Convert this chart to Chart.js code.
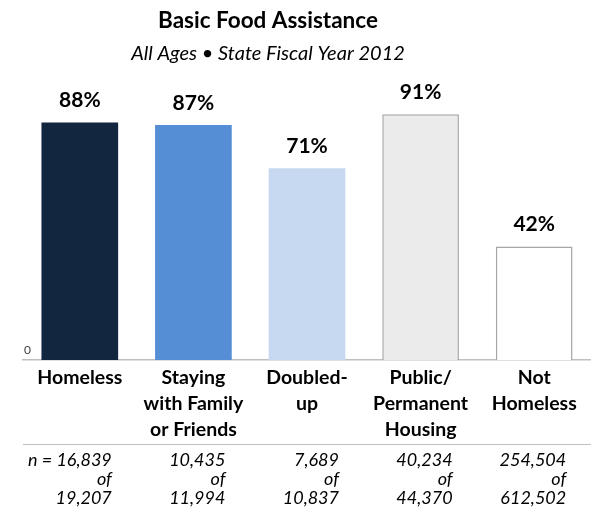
<!DOCTYPE html>
<html>
<head>
<meta charset="utf-8">
<script src="https://cdn.jsdelivr.net/npm/chart.js@4"></script>
<style>
    html, body { margin: 0; padding: 0; background: #fff; }
    #wrap { width: 591px; height: 510px; position: relative; }
</style>
</head>
<body>
<div id="wrap"><canvas id="foodChart"></canvas></div>
<script>
const categories = [
    ['Homeless'],
    ['Staying', 'with Family', 'or Friends'],
    ['Doubled-', 'up'],
    ['Public/', 'Permanent', 'Housing'],
    ['Not', 'Homeless']
];
const percentages = [88, 87, 71, 91, 42];
const served = [16839, 10435, 7689, 40234, 254504];
const totals = [19207, 11994, 10837, 44370, 612502];
const yTicks = [0];
const titleText = 'Basic Food Assistance';
const subtitleText = 'All Ages \u2022 State Fiscal Year 2012';

const fontFamily = 'Lato, "Open Sans", sans-serif';
const barColors = ['#13263f', '#558ed5', '#c6d9f1', '#ebebeb', '#ffffff'];
const barBorders = ['#13263f', '#558ed5', '#c6d9f1', '#a6a6a6', '#a6a6a6'];

// title block sits a bit left of centre in the original, so draw it by hand
const titleBlock = {
    id: 'titleBlock',
    afterDraw(chart) {
        const ctx = chart.ctx;
        ctx.save();
        ctx.fillStyle = '#000';
        ctx.textAlign = 'center';
        ctx.textBaseline = 'middle';
        ctx.font = `bold 22.5px ${fontFamily}`;
        ctx.fillText(titleText, 268, 21);
        ctx.font = `italic 20px ${fontFamily}`;
        ctx.fillText(subtitleText, 268, 54);
        ctx.restore();
    }
};

// percent labels above each bar
const valueLabels = {
    id: 'valueLabels',
    afterDatasetsDraw(chart) {
        const ctx = chart.ctx;
        const meta = chart.getDatasetMeta(0);
        ctx.save();
        ctx.font = `bold 21px ${fontFamily}`;
        ctx.fillStyle = '#000';
        ctx.textAlign = 'center';
        ctx.textBaseline = 'middle';
        meta.data.forEach((bar, i) => {
            ctx.fillText(percentages[i] + '%', bar.x, bar.y - 22);
        });
        ctx.restore();
    }
};

// separator line and "n = x of y" rows under the category labels
const countRows = {
    id: 'countRows',
    afterDraw(chart) {
        const ctx = chart.ctx;
        const x = chart.scales.x;
        const area = chart.chartArea;
        ctx.save();
        ctx.strokeStyle = '#bfbfbf';
        ctx.lineWidth = 1;
        ctx.beginPath();
        ctx.moveTo(area.left, 444.5);
        ctx.lineTo(area.right, 444.5);
        ctx.stroke();

        ctx.font = `italic 18px ${fontFamily}`;
        ctx.fillStyle = '#000';
        ctx.textAlign = 'right';
        ctx.textBaseline = 'middle';
        served.forEach((n, i) => {
            const right = x.getPixelForValue(i) + 32;
            const first = (i === 0 ? 'n = ' : '') + n.toLocaleString('en-US');
            ctx.fillText(first, right, 460);
            ctx.fillText('of', right, 479);
            ctx.fillText(totals[i].toLocaleString('en-US'), right, 498);
        });
        ctx.restore();
    }
};

new Chart(document.getElementById('foodChart'), {
    type: 'bar',
    data: {
        labels: categories,
        datasets: [{
            data: percentages,
            backgroundColor: barColors,
            borderColor: barBorders,
            borderWidth: [0, 0, 0, 1.5, 1.5],
            barPercentage: 0.675,
            categoryPercentage: 1
        }]
    },
    options: {
        responsive: true,
        maintainAspectRatio: false,
        animation: false,
        layout: { padding: { left: 21, right: 0, top: 90, bottom: 62 } },
        plugins: {
            legend: { display: false },
            tooltip: { enabled: false },
            title: { display: false },
            subtitle: { display: false }
        },
        scales: {
            x: {
                grid: { display: false, drawTicks: false },
                border: { display: true, color: '#bfbfbf', width: 1.5 },
                ticks: {
                    color: '#000',
                    padding: 5,
                    maxRotation: 0,
                    autoSkip: false,
                    font: { family: fontFamily, size: 19.5, weight: 'bold', lineHeight: 1.333 }
                }
            },
            y: {
                min: 0,
                max: 100,
                grid: { display: false, drawTicks: false },
                border: { display: false },
                afterBuildTicks: axis => { axis.ticks = yTicks.map(v => ({ value: v })); },
                ticks: {
                    mirror: true,
                    padding: 1,
                    labelOffset: -10,
                    color: '#404040',
                    font: { family: fontFamily, size: 12 }
                }
            }
        }
    },
    plugins: [titleBlock, valueLabels, countRows]
});
</script>
</body>
</html>
